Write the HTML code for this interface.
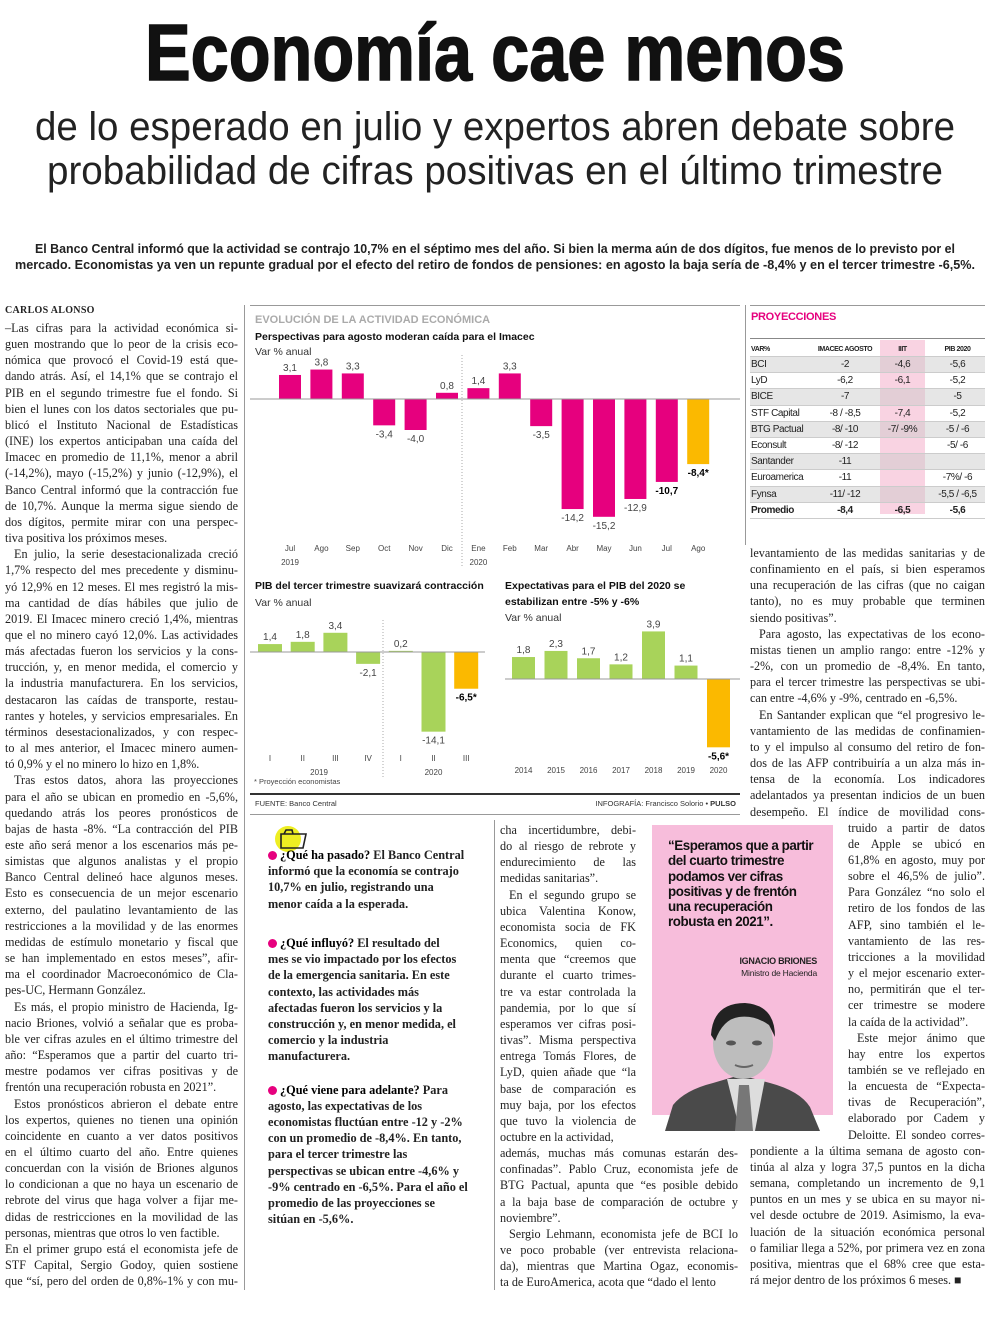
<!DOCTYPE html>
<html lang="es"><head><meta charset="utf-8">
<style>
*{margin:0;padding:0;box-sizing:border-box}
body{width:1000px;height:1320px;background:#fff;position:relative;overflow:hidden;font-family:"Liberation Serif",serif;color:#222}
.abs{position:absolute}
.col{position:absolute}
.ln{height:16.17px;line-height:16.17px;white-space:nowrap;text-align:justify;text-align-last:justify;font-size:12.2px;overflow:visible}
.ln.e{text-align-last:left}
.ln.i{padding-left:9px}
.bl{height:16.2px;line-height:16.2px;white-space:nowrap;font-size:12.3px;font-weight:bold;color:#222}
.bl b{font-weight:900;color:#000}
.dot{display:inline-block;width:9px;height:9px;border-radius:50%;background:#e6007e;margin-right:3px;vertical-align:-1px}
svg text{font-family:"Liberation Sans",sans-serif}
.q{font-family:"Liberation Sans",sans-serif;font-weight:bold;font-size:13.4px;letter-spacing:-0.45px;line-height:15.3px;color:#111}
</style></head><body>

<svg class="abs" style="left:0;top:0" width="1000" height="300">
<text x="495" y="80" text-anchor="middle" font-size="80" font-weight="bold" textLength="700" lengthAdjust="spacingAndGlyphs" fill="#111" stroke="#111" stroke-width="1.5">Economía cae menos</text>
<text x="35" y="140" font-size="40" textLength="920" lengthAdjust="spacingAndGlyphs" fill="#222">de lo esperado en julio y  expertos abren debate sobre</text>
<text x="47" y="184" font-size="40" textLength="896" lengthAdjust="spacingAndGlyphs" fill="#222">probabilidad de cifras positivas en el último trimestre</text>
<text x="35" y="253" font-size="12.5" font-weight="bold" textLength="920" lengthAdjust="spacingAndGlyphs" fill="#222">El Banco Central informó que la actividad se contrajo 10,7% en el séptimo mes del año. Si bien la merma aún de dos dígitos, fue menos de lo previsto por el</text>
<text x="15" y="269" font-size="12.5" font-weight="bold" textLength="960" lengthAdjust="spacingAndGlyphs" fill="#222">mercado. Economistas ya ven un repunte gradual por el efecto del retiro de fondos de pensiones: en agosto la baja sería de -8,4% y en el tercer trimestre -6,5%.</text>
</svg>

<!-- rules -->
<div class="abs" style="left:244px;top:305px;width:1px;height:985px;background:#999"></div>
<div class="abs" style="left:494px;top:820px;width:1px;height:470px;background:#999"></div>
<div class="abs" style="left:745px;top:305px;width:1px;height:240px;background:#999"></div>
<div class="abs" style="left:250px;top:305px;width:490px;height:1px;background:#999"></div>
<div class="abs" style="left:750px;top:305px;width:235px;height:1px;background:#999"></div>
<div class="abs" style="left:250px;top:793px;width:490px;height:2px;background:#333"></div>
<div class="abs" style="left:250px;top:814px;width:490px;height:1px;background:#999"></div>

<div class="abs" style="left:5px;top:305px;font-size:10px;font-weight:bold;letter-spacing:0.3px">CARLOS ALONSO</div>

<div class="col" id="c1" style="left:5px;top:320px;width:233px"></div>
<div class="col" id="c3" style="left:500px;top:822px;width:238px"></div>
<div class="col" id="c4" style="left:750px;top:545px;width:235px"></div>

<!-- charts -->
<svg class="abs" style="left:0;top:0" width="1000" height="1320" id="charts">
<text x="255" y="323" font-size="11" font-weight="bold" fill="#aaa">EVOLUCIÓN DE LA ACTIVIDAD ECONÓMICA</text>
<text x="255" y="340" font-size="10.5" font-weight="bold" fill="#111">Perspectivas para agosto moderan caída para el Imacec</text>
<text x="255" y="355" font-size="10.5" fill="#333">Var % anual</text>
<line x1="462" y1="355" x2="462" y2="568" stroke="#aaa" stroke-dasharray="1,2"/>
<text x="255" y="589" font-size="10.5" font-weight="bold" fill="#111">PIB del tercer trimestre suavizará contracción</text>
<text x="255" y="606" font-size="10.5" fill="#333">Var % anual</text>
<line x1="383" y1="620" x2="383" y2="777" stroke="#aaa" stroke-dasharray="1,2"/>
<text x="254" y="784" font-size="7.5" fill="#444">* Proyección economistas</text>
<text x="505" y="589" font-size="10.5" font-weight="bold" fill="#111">Expectativas para el PIB del 2020 se</text>
<text x="505" y="605" font-size="10.5" font-weight="bold" fill="#111">estabilizan entre  -5% y -6%</text>
<text x="505" y="621" font-size="10.5" fill="#333">Var % anual</text>
<text x="255" y="806" font-size="7.5" fill="#333">FUENTE: Banco Central</text>
<text x="736" y="806" font-size="7.5" fill="#333" text-anchor="end">INFOGRAFÍA: Francisco Solorio • <tspan font-weight="bold">PULSO</tspan></text>
</svg>

<!-- table -->
<div class="abs" style="left:751px;top:311px;font-family:'Liberation Sans',sans-serif;font-weight:bold;font-size:11px;color:#e6007e;letter-spacing:-0.3px">PROYECCIONES</div>
<div class="abs" style="left:750px;top:338px;width:235px;height:1px;background:#888"></div>
<div class="abs" id="tbl" style="left:750px;top:342px;width:235px;font-family:'Liberation Sans',sans-serif"></div>

<!-- bullets -->
<div class="abs" style="left:275px;top:826px;width:26px;height:26px;border-radius:50%;background:#eeee22"></div>
<svg class="abs" style="left:278px;top:825px" width="30" height="26"><path d="M3 9 L3 23 L25 23 L28 9 Z M6 9 L8 5 L14 5 L15 9" fill="none" stroke="#222" stroke-width="1.6"/></svg>
<div class="col" style="left:268px;top:847px;width:215px">
<div class="bl"><span class="dot"></span><b>¿Qué ha pasado?</b> El Banco Central</div>
<div class="bl">informó que la economía se contrajo</div>
<div class="bl">10,7% en julio, registrando una</div>
<div class="bl">menor caída a la esperada.</div>
<div class="bl"></div><div class="bl" style="height:7px"></div>
<div class="bl"><span class="dot"></span><b>¿Qué influyó?</b> El resultado del</div>
<div class="bl">mes se vio impactado por los efectos</div>
<div class="bl">de la emergencia sanitaria. En este</div>
<div class="bl">contexto, las actividades más</div>
<div class="bl">afectadas fueron los servicios y la</div>
<div class="bl">construcción y, en menor medida, el</div>
<div class="bl">comercio y la industria</div>
<div class="bl">manufacturera.</div>
<div class="bl"></div><div class="bl" style="height:1px"></div>
<div class="bl"><span class="dot"></span><b>¿Qué viene para adelante?</b> Para</div>
<div class="bl">agosto, las expectativas de los</div>
<div class="bl">economistas fluctúan entre -12 y -2%</div>
<div class="bl">con un promedio de -8,4%. En tanto,</div>
<div class="bl">para el tercer trimestre las</div>
<div class="bl">perspectivas se ubican entre -4,6% y</div>
<div class="bl">-9% centrado en -6,5%. Para el año el</div>
<div class="bl">promedio de las proyecciones se</div>
<div class="bl">sitúan en -5,6%.</div>
</div>

<!-- quote box -->
<div class="abs" style="left:652px;top:825px;width:181px;height:290px;background:#f7bddb"></div>
<div class="abs q" style="left:668px;top:838px;width:160px">“Esperamos que a partir<br>del cuarto trimestre<br>podamos ver cifras<br>positivas y de frentón<br>una recuperación<br>robusta en 2021”.</div>
<div class="abs" style="left:700px;top:956px;width:117px;text-align:right;font-family:'Liberation Sans',sans-serif;font-size:9px;font-weight:bold;letter-spacing:-0.3px">IGNACIO BRIONES</div>
<div class="abs" style="left:700px;top:968px;width:117px;text-align:right;font-family:'Liberation Sans',sans-serif;font-size:8.5px;letter-spacing:-0.2px">Ministro de Hacienda</div>
<svg class="abs" style="left:665px;top:995px" width="155" height="136">
<path d="M0 136 L8 110 Q20 95 48 88 L75 80 L105 88 Q135 96 145 112 L155 136 Z" fill="#4a4a4a"/>
<path d="M62 84 L75 136 L90 136 L100 84 Z" fill="#ddd"/>
<path d="M74 90 L70 136 L88 136 L84 90 Z" fill="#777"/>
<ellipse cx="78" cy="48" rx="30" ry="36" fill="#bdbdbd"/>
<path d="M46 40 Q48 8 80 8 Q110 10 110 42 L104 30 Q90 20 74 22 Q58 24 50 46 Z" fill="#222"/>
<ellipse cx="66" cy="48" rx="5" ry="2.5" fill="#555"/><ellipse cx="92" cy="48" rx="5" ry="2.5" fill="#555"/>
<path d="M70 70 Q79 74 88 70" stroke="#666" stroke-width="2" fill="none"/>
</svg>

<script>
// ---------- chart data ----------
const imacecMonths=['Jul','Ago','Sep','Oct','Nov','Dic','Ene','Feb','Mar','Abr','May','Jun','Jul','Ago'];
const imacecYears=['2019','','','','','','2020','','','','','','',''];
const imacecValues=[3.1,3.8,3.3,-3.4,-4.0,0.8,1.4,3.3,-3.5,-14.2,-15.2,-12.9,-10.7,-8.4];
const imacecLabels=['3,1','3,8','3,3','-3,4','-4,0','0,8','1,4','3,3','-3,5','-14,2','-15,2','-12,9','-10,7','-8,4*'];
const imacecProjected=[false,false,false,false,false,false,false,false,false,false,false,false,false,true];
const imacecBold=[false,false,false,false,false,false,false,false,false,false,false,false,true,true];

const quarterLabels=['I','II','III','IV','I','II','III'];
const quarterValues=[1.4,1.8,3.4,-2.1,0.2,-14.1,-6.5];
const quarterValueLabels=['1,4','1,8','3,4','-2,1','0,2','-14,1','-6,5*'];
const quarterProjected=[false,false,false,false,false,false,true];
const quarterYears=['2019','2020'];

const annualYears=['2014','2015','2016','2017','2018','2019','2020'];
const annualValues=[1.8,2.3,1.7,1.2,3.9,1.1,-5.6];
const annualLabels=['1,8','2,3','1,7','1,2','3,9','1,1','-5,6*'];
const annualProjected=[false,false,false,false,false,false,true];

const tableHeaders=['VAR%','IMACEC AGOSTO','IIIT','PIB 2020'];
const tableNames=['BCI','LyD','BICE','STF Capital','BTG Pactual','Econsult','Santander','Euroamerica','Fynsa','Promedio'];
const tableImacec=['-2','-6,2','-7','-8 / -8,5','-8/ -10','-8/ -12','-11','-11','-11/ -12','-8,4'];
const tableIIIT=['-4,6','-6,1','','-7,4','-7/ -9%','','','','','-6,5'];
const tablePIB=['-5,6','-5,2','-5','-5,2','-5 / -6','-5/ -6','','-7%/ -6','-5,5 / -6,5','-5,6'];

const NS='http://www.w3.org/2000/svg';
const svg=document.getElementById('charts');
const MAG='#e6007e',YEL='#fbb900',GRN='#a8d35a';
function mk(tag,attrs){const e=document.createElementNS(NS,tag);for(const k in attrs)e.setAttribute(k,attrs[k]);svg.appendChild(e);return e;}

function drawBars(cfg){
  const {vals,labels,proj,bold,cats,x,w,y,zeroX1,zeroX2,catY,color,name}=cfg;
  vals.forEach((v,i)=>{
    const y0=y(0),yv=y(v);
    const r=mk('rect',{x:x(i),y:Math.min(y0,yv),width:w,height:Math.abs(yv-y0),fill:proj[i]?YEL:color});
    
    
    const ly=v>=0?yv-4:yv+12;
    const t=mk('text',{x:x(i)+w/2,y:ly,'text-anchor':'middle','font-size':10,fill:bold&&bold[i]?'#000':'#444','font-weight':bold&&bold[i]?'bold':'normal'});
    t.textContent=labels[i];
    
    
    const c=mk('text',{x:x(i)+w/2,y:catY,'text-anchor':'middle','font-size':8,fill:'#444'});
    c.textContent=cats[i];
    
    
  });
  const z=mk('line',{x1:zeroX1,x2:zeroX2,y1:cfg.y(0),y2:cfg.y(0),stroke:'#999','stroke-width':1});
  
  
}
// chart 1
const x1=i=>279+i*31.4, y1=v=>399-v*7.75;
drawBars({vals:imacecValues,labels:imacecLabels,proj:imacecProjected,bold:imacecBold,cats:imacecMonths,x:x1,w:22,y:y1,zeroX1:250,zeroX2:740,catY:551,color:MAG,name:'imacec'});
imacecYears.forEach((yr,i)=>{if(!yr)return;const t=mk('text',{x:x1(i)+11,y:565,'text-anchor':'middle','font-size':8,fill:'#444'});t.textContent=yr;

});
// chart 2
const x2=i=>258+i*32.7, y2=v=>652-v*5.65;
drawBars({vals:quarterValues,labels:quarterValueLabels,proj:quarterProjected,bold:quarterProjected,cats:quarterLabels,x:x2,w:24,y:y2,zeroX1:250,zeroX2:485,catY:761,color:GRN,name:'quarterly-gdp'});
[[0,3],[4,6]].forEach((r,k)=>{const t=mk('text',{x:(x2(r[0])+x2(r[1])+24)/2,y:775,'text-anchor':'middle','font-size':8,fill:'#444'});t.textContent=quarterYears[k];

});
// chart 3
const x3=i=>512+i*32.5, y3=v=>679-v*12.2;
drawBars({vals:annualValues,labels:annualLabels,proj:annualProjected,bold:annualProjected,cats:annualYears,x:x3,w:23,y:y3,zeroX1:505,zeroX2:740,catY:773,color:GRN,name:'annual-gdp'});

// ---------- table ----------
const tbl=document.getElementById('tbl');
const colX=[1,60,130,180],colW=[60,70,45,55];
const pink=document.createElement('div');


pink.style.cssText='position:absolute;left:130px;top:-2px;width:45px;height:174px;background:#f9d3e2';
tbl.appendChild(pink);
function row(cells,top,h,opts){
  const r=document.createElement('div');
  
  
  r.style.cssText=`position:absolute;left:0;top:${top}px;width:235px;height:${h}px;border-bottom:1px solid #ccc;${opts.bg?'background:rgba(200,200,200,0.45);':''}`;
  cells.forEach((c,j)=>{const s=document.createElement('div');
    
    
    s.style.cssText=`position:absolute;left:${colX[j]}px;width:${colW[j]}px;top:0;line-height:${h}px;font-size:${opts.fs}px;white-space:nowrap;letter-spacing:-0.4px;text-align:${j==0?'left':'center'};${opts.b?'font-weight:bold;':''}color:#222`;
    s.textContent=c;r.appendChild(s);});
  tbl.appendChild(r);
}
row(tableHeaders,0,15,{fs:7,b:true});
tableNames.forEach((n,i)=>row([n,tableImacec[i],tableIIIT[i],tablePIB[i]],15+i*16.2,16.2,{fs:10,bg:i%2==0&&i<9,b:i==9}));

// ---------- body text ----------
const col1=['–Las cifras para la actividad económica si-','guen mostrando que lo peor de la crisis eco-','nómica que provocó el Covid-19 está que-','dando atrás. Así, el 14,1% que se contrajo el','PIB en el segundo trimestre fue el fondo. Si','bien el lunes con los datos sectoriales que pu-','blicó el Instituto Nacional de Estadísticas','(INE) los expertos anticipaban una caída del','Imacec en promedio de 11,1%, menor a abril','(-14,2%), mayo (-15,2%) y junio (-12,9%), el','Banco Central informó que la contracción fue','de 10,7%. Aunque la merma sigue siendo de','dos dígitos, permite mirar con una perspec-','tiva positiva los próximos meses.|',
'>En julio, la serie desestacionalizada creció','1,7% respecto del mes precedente y disminu-','yó 12,9% en 12 meses. El mes registró la mis-','ma cantidad de días hábiles que julio de','2019. El Imacec minero creció 1,4%, mientras','que el no minero cayó 12,0%. Las actividades','más afectadas fueron los servicios y la cons-','trucción, y, en menor medida, el comercio y','la industria manufacturera. En los servicios,','destacaron las caídas de transporte, restau-','rantes y hoteles, y servicios empresariales. En','términos desestacionalizados, y con respec-','to al mes anterior, el Imacec minero aumen-','tó 0,9% y el no minero lo hizo en 1,8%.|',
'>Tras estos datos, ahora las proyecciones','para el año se ubican en promedio en -5,6%,','quedando atrás los peores pronósticos de','bajas de hasta -8%. “La contracción del PIB','este año será menor a los escenarios más pe-','simistas que algunos analistas y el propio','Banco Central delineó hace algunos meses.','Esto es consecuencia de un mejor escenario','externo, del paulatino levantamiento de las','restricciones a la movilidad y de las enormes','medidas de estímulo monetario y fiscal que','se han implementado en estos meses”, afir-','ma el coordinador Macroeconómico de Cla-','pes-UC, Hermann González.|',
'>Es más, el propio ministro de Hacienda, Ig-','nacio Briones, volvió a señalar que es proba-','ble ver cifras azules en el último trimestre del','año: “Esperamos que a partir del cuarto tri-','mestre podamos ver cifras positivas y de','frentón una recuperación robusta en 2021”.|',
'>Estos pronósticos abrieron el debate entre','los expertos, quienes no tienen una opinión','coincidente en cuanto a ver datos positivos','en el último cuarto del año. Entre quienes','concuerdan con la visión de Briones algunos','lo condicionan a que no haya un escenario de','rebrote del virus que haga volver a fijar me-','didas de restricciones en la movilidad de las','personas, mientras que otros lo ven factible.|','En el primer grupo está el economista jefe de','STF Capital, Sergio Godoy, quien sostiene','que “sí, pero del orden de 0,8%-1% y con mu-'];
const col3=['cha incertidumbre, debi-','do al riesgo de rebrote y','endurecimiento de las','medidas sanitarias”.|','>En el segundo grupo se','ubica Valentina Konow,','economista socia de FK','Economics, quien co-','menta que “creemos que','durante el cuarto trimes-','tre va estar controlada la','pandemia, por lo que sí','esperamos ver cifras posi-','tivas”. Misma perspectiva','entrega Tomás Flores, de','LyD, quien añade que “la','base de comparación es','muy baja, por los efectos','que tuvo la violencia de','octubre en la actividad,|',
'además, muchas más comunas estarán des-','confinadas”. Pablo Cruz, economista jefe de','BTG Pactual, apunta que “es posible debido','a la baja base de comparación de octubre y','noviembre”.|','>Sergio Lehmann, economista jefe de BCI lo','ve poco probable (ver entrevista relaciona-','da), mientras que Martina Ogaz, economis-','ta de EuroAmerica, acota que “dado el lento|'];
const col4=['levantamiento de las medidas sanitarias y de','confinamiento en el país, si bien esperamos','una recuperación de las cifras (que no caigan','tanto), no es muy probable que terminen','siendo positivas”.|','>Para agosto, las expectativas de los econo-','mistas tienen un amplio rango: entre -12% y','-2%, con un promedio de -8,4%. En tanto,','para el tercer trimestre las perspectivas se ubi-','can entre -4,6% y -9%, centrado en -6,5%.|','>En Santander explican que “el progresivo le-','vantamiento de las medidas de confinamien-','to y el impulso al consumo del retiro de fon-','dos de las AFP contribuiría a un alza más in-','tensa de la economía. Los indicadores','adelantados ya presentan indicios de un buen','desempeño. El índice de movilidad cons-',
'truido a partir de datos','de Apple se ubicó en','61,8% en agosto, muy por','sobre el 46,5% de julio”.','Para González “no solo el','retiro de los fondos de las','AFP, sino también el le-','vantamiento de las res-','tricciones a la movilidad','y el mejor escenario exter-','no, permitirán que el ter-','cer trimestre se modere','la caída de la actividad”.|','>Este mejor ánimo que','hay entre los expertos','también se ve reflejado en','la encuesta de “Expecta-','tivas de Recuperación”,','elaborado por Cadem y','Deloitte. El sondeo corres-',
'pondiente a la última semana de agosto con-','tinúa al alza y logra 37,5 puntos en la dicha','semana, completando un incremento de 9,1','puntos en un mes y se ubica en su mayor ni-','vel desde octubre de 2019. Asimismo, la eva-','luación de la situación económica personal','o familiar llega a 52%, por primera vez en zona','positiva, mientras que el 68% cree que esta-','rá mejor dentro de los próximos 6 meses. ■|'];

function fill(id,lines,widthFn,offsetFn){
  const c=document.getElementById(id);
  lines.forEach((s,i)=>{
    const d=document.createElement('div');
    
    
    let cls='ln',t=s;
    if(t.startsWith('>')){cls+=' i';t=t.slice(1);}
    if(t.endsWith('|')){cls+=' e';t=t.slice(0,-1);}
    d.className=cls;d.textContent=t;
    d.style.width=widthFn(i)+'px';
    d.style.marginLeft=offsetFn(i)+'px';
    c.appendChild(d);
    const avail=widthFn(i)-(cls.includes(' i')?9:0);
    const sp=document.createElement('span');sp.style.cssText='font-size:12.2px;white-space:nowrap;position:absolute;visibility:hidden;font-family:"Liberation Serif",serif';
    sp.textContent=t;document.body.appendChild(sp);
    const w=sp.getBoundingClientRect().width;sp.remove();
    if(w>avail){d.style.letterSpacing=((avail-w)/t.length-0.02)+'px';}
  });
}
fill('c1',col1,()=>233,()=>0);
fill('c3',col3,i=>i<20?136:238,()=>0);
fill('c4',col4,i=>(i>=17&&i<37)?137:235,i=>(i>=17&&i<37)?98:0);
</script>
</body></html>
